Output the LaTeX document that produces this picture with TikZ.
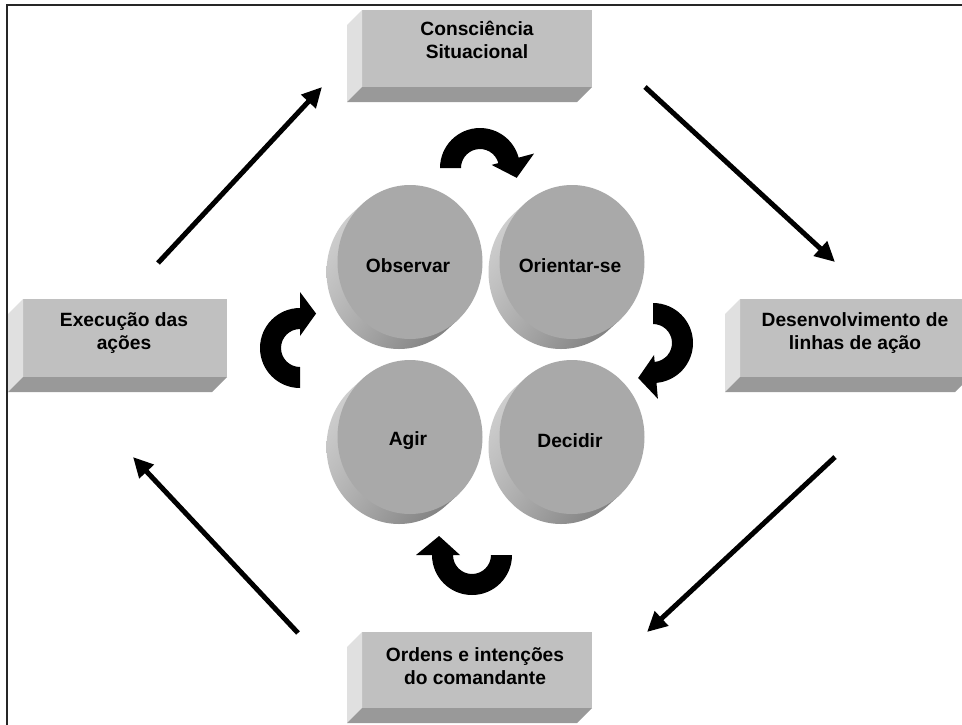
\documentclass[tikz,border=0pt]{standalone}
\usepackage{fontspec}
\setmainfont{Liberation Sans}
\usetikzlibrary{arrows.meta,calc,shadings,shapes.geometric}
\definecolor{facegray}{HTML}{C0C0C0}
\definecolor{sidelight}{HTML}{E0E0E0}
\definecolor{sidedark}{HTML}{999999}
\definecolor{discface}{HTML}{A9A9A9}
\tikzset{
  boxface/.style={rectangle, fill=facegray, inner sep=0pt, outer sep=0pt},
  lbl/.style={font=\fontsize{19.2}{23}\selectfont\bfseries, align=center, inner sep=0pt, text=black},
  disc/.style={ellipse, fill=discface, minimum width=145pt, minimum height=154pt, inner sep=0pt, outer sep=0pt},
  flow/.style={line width=5pt, -{Triangle[length=20pt,width=19pt]}},
  frame/.style={line width=2pt, black!85},
}
\newcommand\bevbox[5]{%
  \node[boxface, minimum width=#4, minimum height=#5] (#1) at (#2,#3) {};
  \fill[sidelight] (#1.north west) -- ++(-15,-15) -- ($(#1.south west)+(-15,-15)$) -- (#1.south west) -- cycle;
  \fill[sidedark] (#1.south west) -- ++(-15,-15) -- ($(#1.south east)+(-15,-15)$) -- (#1.south east) -- cycle;
}
\newcommand\discnode[4]{%
  \shade[upper left=black!14, upper right=black!28, lower left=black!30, lower right=black!58]
    ($(#2,#3)+(-11,-10)$) ellipse[x radius=72.5, y radius=77]
    ($(#2,#3)+(-8.8,-8)$) ellipse[x radius=72.5, y radius=77]
    ($(#2,#3)+(-6.6,-6)$) ellipse[x radius=72.5, y radius=77]
    ($(#2,#3)+(-4.4,-4)$) ellipse[x radius=72.5, y radius=77]
    ($(#2,#3)+(-2.2,-2)$) ellipse[x radius=72.5, y radius=77];
  \node[disc] (#1) at (#2,#3) {};
  \node[lbl] (#1txt) at ($(#1)+(-2,-4)$) {#4};
}
\newcommand\turnarrow[6]{%
  \coordinate (#1) at (#2,#3);
  \fill[black] ($(#1)+(#4:40)$) arc[start angle=#4, end angle=#5, radius=40]
    -- ($(#1)+(#5:56)$) -- ($(#1)+(#6:38)$) -- ($(#1)+(#5:12)$) -- ($(#1)+(#5:19)$)
    arc[start angle=#5, end angle=#4, radius=19] -- cycle;
}
\begin{document}
\begin{tikzpicture}[x=1pt,y=1pt]
\useasboundingbox (0,0) rectangle (962,-724);
\clip (0,0) rectangle (962,-724);
\fill[white] (0,0) rectangle (962,-724);
\draw[frame] (7,-730) -- (7,-5) -- (970,-5);

% boxes
\bevbox{top}{477}{-48.5}{230pt}{77pt}
\bevbox{left}{125}{-338}{204pt}{78pt}
\bevbox{right}{855}{-338}{230pt}{78pt}
\bevbox{bottom}{477}{-670}{230pt}{76pt}
\node[lbl] (toptxt) at (477,-40) {Consciência\\Situacional};
\node[lbl] (lefttxt) at (124,-333) {Execução das\\ações};
\node[lbl] (righttxt) at (855,-333) {Desenvolvimento de\\linhas de ação};
\node[lbl] (bottomtxt) at (475,-666) {Ordens e intenções\\do comandante};

% discs
\discnode{obs}{410}{-262}{Observar}
\discnode{ori}{572}{-262}{Orientar-se}
\discnode{agi}{410}{-437}{Agir}
\discnode{dec}{572}{-437}{Decidir}

% curved arrows
\turnarrow{ctop}{480}{-168}{180}{15}{-15}
\turnarrow{cright}{653}{-343}{90}{-85}{-113}
\turnarrow{cbottom}{472}{-555}{0}{-180}{-210}
\turnarrow{cleft}{300}{-348}{-90}{-270}{-295}

% straight arrows
\coordinate (ltS) at (158,-263); \coordinate (ltE) at (322,-87);
\coordinate (trS) at (645,-87);  \coordinate (trE) at (835,-262);
\coordinate (rbS) at (835,-457); \coordinate (rbE) at (647,-632);
\coordinate (blS) at (298,-633); \coordinate (blE) at (133,-457);
\draw[flow] (ltS) -- (ltE);
\draw[flow] (trS) -- (trE);
\draw[flow] (rbS) -- (rbE);
\draw[flow] (blS) -- (blE);
\end{tikzpicture}
\end{document}
